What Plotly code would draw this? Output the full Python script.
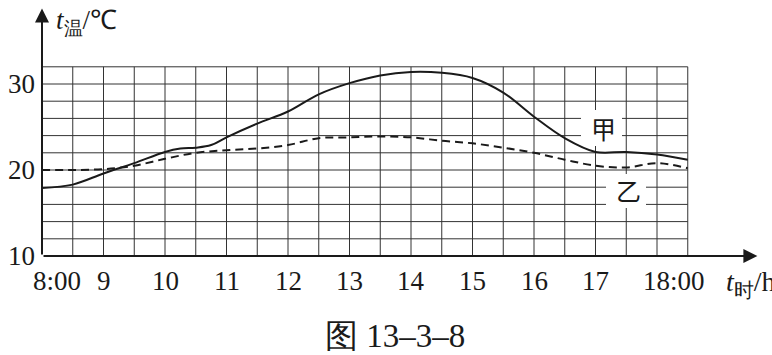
import plotly.graph_objects as go

# ---- data ----
hours_jia = [8.0, 8.5, 9.0, 9.5, 10.0, 10.25, 10.5, 10.75, 11.0, 11.5, 12.0, 12.5, 13.0,
             13.5, 14.0, 14.5, 15.0, 15.5, 16.0, 16.5, 17.0, 17.5, 18.0, 18.5]
temp_jia = [17.9, 18.3, 19.6, 20.8, 22.1, 22.5, 22.6, 22.9, 23.8, 25.4, 26.8, 28.8, 30.1,
            31.0, 31.4, 31.3, 30.7, 29.0, 26.2, 23.7, 22.1, 22.1, 21.8, 21.2]

hours_yi = [8.0, 8.5, 9.0, 9.5, 10.0, 10.5, 11.0, 11.5, 12.0, 12.5, 13.0, 13.5, 14.0,
            14.5, 15.0, 15.5, 16.0, 16.5, 17.0, 17.5, 18.0, 18.5]
temp_yi = [20.0, 20.0, 20.1, 20.5, 21.3, 22.0, 22.3, 22.5, 22.9, 23.7, 23.8, 23.9, 23.8,
           23.4, 23.1, 22.6, 22.0, 21.2, 20.5, 20.3, 20.8, 20.2]

x_tick_vals = [8, 9, 10, 11, 12, 13, 14, 15, 16, 17, 18]
x_tick_text = ["8:00", "9", "10", "11", "12", "13", "14", "15", "16", "17", "18:00"]
y_tick_vals = [10, 20, 30]
y_tick_text = ["10", "20", "30"]

grid_x = [8.5 + 0.5 * i for i in range(21)]      # half-hour lines 8:30 .. 18:30
grid_y = [12 + 2 * i for i in range(11)]          # 12 .. 32 every 2 degrees
grid_x_max = 18.5
grid_y_max = 32

series_labels = ["甲", "乙"]

# ---- figure ----
PX_H = 61.5    # pixels per hour
PX_D = 8.6     # pixels per degree
X0, X1 = 8.0, 8.0 + 716 / PX_H
Y0, Y1 = 10.0, 10.0 + 248 / PX_D
SERIF = "Liberation Serif"
INK = "#1a1a1a"
GRID = "#333333"


def dx(px):
    return X0 + (px - 42) / PX_H


def dy(py):
    return Y0 + (256 - py) / PX_D


fig = go.Figure()

shapes = []
for gx in grid_x:
    shapes.append(dict(type="line", xref="x", yref="y", x0=gx, x1=gx, y0=Y0, y1=grid_y_max,
                       line=dict(color=GRID, width=1), layer="below"))
for gy in grid_y:
    shapes.append(dict(type="line", xref="x", yref="y", x0=X0, x1=grid_x_max, y0=gy, y1=gy,
                       line=dict(color=GRID, width=1), layer="below"))
# white patches behind the series labels (break the grid, stay under the curves)
shapes.append(dict(type="rect", xref="x", yref="y", x0=dx(581), x1=dx(622), y0=dy(146), y1=dy(110),
                   fillcolor="white", line=dict(width=0), layer="below"))
shapes.append(dict(type="rect", xref="x", yref="y", x0=dx(606), x1=dx(646), y0=dy(208), y1=dy(174),
                   fillcolor="white", line=dict(width=0), layer="below"))

fig.add_trace(go.Scatter(x=hours_jia, y=temp_jia, mode="lines", name="甲",
                         line=dict(color=INK, width=2, shape="spline", smoothing=1.0),
                         hoverinfo="skip", cliponaxis=False))
fig.add_trace(go.Scatter(x=hours_yi, y=temp_yi, mode="lines", name="乙",
                         line=dict(color=INK, width=2, shape="spline", smoothing=1.0,
                                   dash="8px,5px"),
                         hoverinfo="skip", cliponaxis=False))

annotations = []
# axis arrows
annotations.append(dict(x=X0, y=Y1 - 0.05, ax=X0, ay=Y0, xref="x", yref="y", axref="x", ayref="y",
                        text="", showarrow=True, arrowhead=2, arrowsize=1.4, arrowwidth=2,
                        arrowcolor=INK, standoff=0))
annotations.append(dict(x=X1 - 0.01, y=Y0, ax=X0, ay=Y0, xref="x", yref="y", axref="x", ayref="y",
                        text="", showarrow=True, arrowhead=2, arrowsize=1.4, arrowwidth=2,
                        arrowcolor=INK, standoff=0))

# x tick labels (paper y so they are not hidden outside the axis range)
label_py = (256 - 281) / 248
for v, t in zip(x_tick_vals, x_tick_text):
    if ":" in t:
        annotations.append(dict(x=v, y=label_py, xref="x", yref="paper", text=t, showarrow=False,
                                xanchor="left", yanchor="middle",
                                xshift=-11 if v == 8 else -16,
                                font=dict(family=SERIF, size=27, color=INK)))
    else:
        annotations.append(dict(x=v, y=label_py, xref="x", yref="paper", text=t, showarrow=False,
                                xanchor="center", yanchor="middle",
                                font=dict(family=SERIF, size=27, color=INK)))

# axis titles
annotations.append(dict(x=dx(54), y=(256 - 22) / 248, xref="x", yref="paper",
                        text="<i>t</i><sub>温</sub>/℃", showarrow=False,
                        xanchor="left", yanchor="middle",
                        font=dict(family=SERIF, size=27, color=INK)))
annotations.append(dict(x=dx(724), y=(256 - 283) / 248, xref="x", yref="paper",
                        text="<i>t</i><sub>时</sub>/h", showarrow=False,
                        xanchor="left", yanchor="middle",
                        font=dict(family=SERIF, size=28, color=INK)))

# series labels
annotations.append(dict(x=dx(603), y=dy(128), xref="x", yref="y",
                        text=series_labels[0], showarrow=False,
                        font=dict(family="Noto Sans CJK SC", size=25, color=INK)))
annotations.append(dict(x=dx(628), y=dy(190), xref="x", yref="y",
                        text=series_labels[1], showarrow=False,
                        font=dict(family="Noto Sans CJK SC", size=25, color=INK)))

# caption
annotations.append(dict(x=(395 - 42) / 716, y=(256 - 336) / 248, xref="paper", yref="paper",
                        text="图 13–3–8", showarrow=False, xanchor="center", yanchor="middle",
                        font=dict(family=SERIF, size=33, color=INK)))

fig.update_layout(
    width=772, height=355,
    margin=dict(l=42, r=14, t=8, b=99, pad=0),
    plot_bgcolor="white", paper_bgcolor="white",
    showlegend=False,
    shapes=shapes, annotations=annotations,
    xaxis=dict(range=[X0, X1], showgrid=False, zeroline=False, showline=False,
               showticklabels=False, ticks="", fixedrange=True),
    yaxis=dict(range=[Y0, Y1], showgrid=False, zeroline=False, showline=False,
               tickvals=y_tick_vals, ticktext=y_tick_text, ticks="",
               tickfont=dict(family=SERIF, size=27, color=INK),
               ticklabelstandoff=6, fixedrange=True),
)

fig.write_html("out.html", config={"displayModeBar": False})
